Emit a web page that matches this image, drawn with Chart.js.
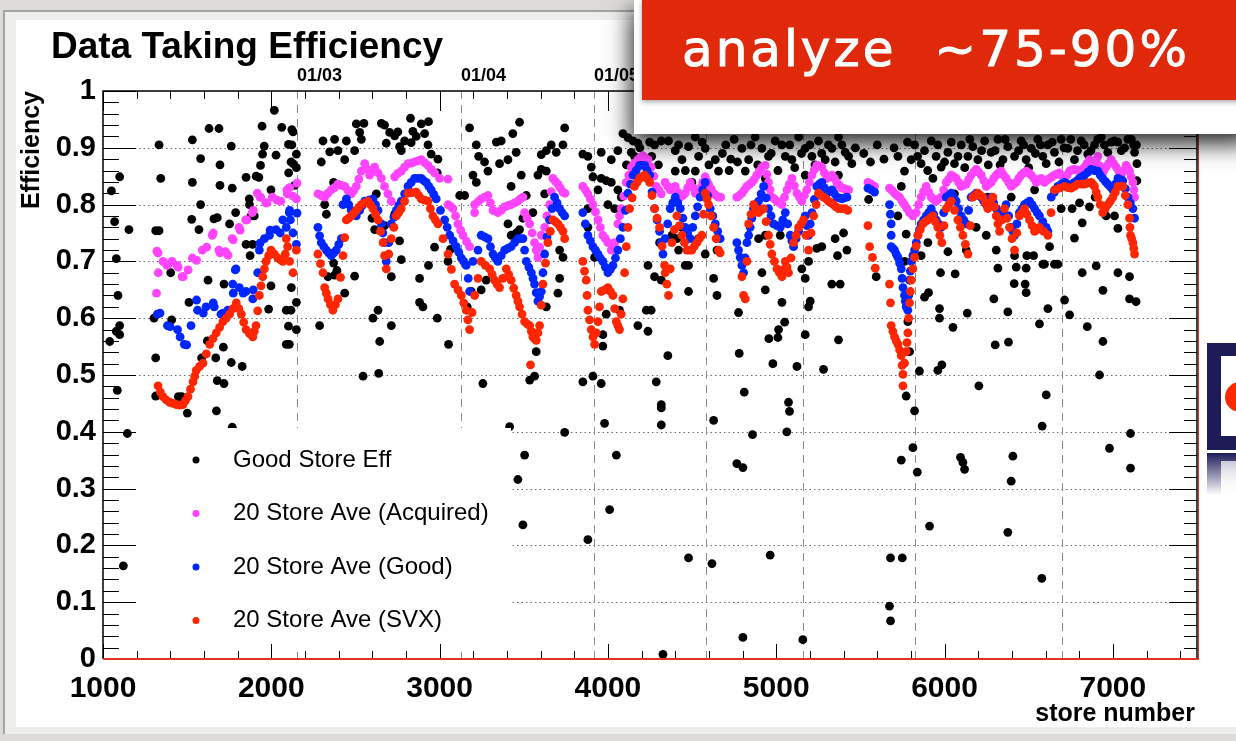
<!DOCTYPE html>
<html>
<head>
<meta charset="utf-8">
<script src="https://cdn.jsdelivr.net/npm/chart.js@4/dist/chart.umd.min.js"></script>
<style>
body { margin: 0; width: 1236px; height: 741px; overflow: hidden; position: relative; background: #dcdbd8; font-family: 'Liberation Sans', Arial, sans-serif; }
#frame { position: absolute; left: 3px; top: 10px; width: 1260px; height: 722px; border-left: 2px solid #a3a3a3; border-top: 2px solid #a3a3a3; background: #eeeeec; }
#sheet { position: absolute; left: 16px; top: 20px; width: 1240px; height: 707px; background: #fff; }
#chart { position: absolute; left: 0; top: 0; }
#title { position: absolute; left: 51px; top: 25px; font-weight: bold; font-size: 37px; color: #000; white-space: nowrap; }
#ytitle { position: absolute; left: 0; top: 0; width: 124px; text-align: right; font-weight: bold; font-size: 25px; line-height: 26px; transform-origin: 0 0; transform: translate(17px, 215px) rotate(-90deg); white-space: nowrap; }
#xtitle { position: absolute; right: 41px; top: 698px; font-weight: bold; font-size: 25px; white-space: nowrap; }
#panel { position: absolute; left: 634px; top: 0; width: 620px; height: 134px; background: #fff; box-shadow: -3px 10px 22px rgba(0,0,0,0.85); }
#redbox { position: absolute; left: 642px; top: 0; width: 620px; height: 100px; background: #e0290b; box-shadow: 0 2px 5px rgba(0,0,0,0.35); color: #fff; font-family: 'DejaVu Sans', sans-serif; font-size: 50px; line-height: 98px; padding-left: 40px; box-sizing: border-box; white-space: pre; letter-spacing: 3px; -webkit-text-stroke: 1px #fff; }
#logo { position: absolute; left: 1207px; top: 343px; width: 40px; height: 107px; background: #1d1b58; }
#logo .inner { position: absolute; left: 14px; top: 13px; width: 30px; height: 80px; background: #fff; overflow: hidden; }
#logo .dot { position: absolute; left: 4px; top: 26px; width: 30px; height: 30px; border-radius: 50%; background: #ff2a00; }
#logo2 { position: absolute; left: 1207px; top: 453px; width: 40px; height: 42px; background: linear-gradient(#1d1b58, rgba(29,27,88,0)); }
#logo2 .inner { position: absolute; left: 14px; top: 8px; width: 30px; height: 34px; background: linear-gradient(rgba(255,255,255,0.7), #fff); }
</style>
</head>
<body>
<div id="frame"></div>
<div id="sheet"></div>
<canvas id="chart" width="1236" height="741"></canvas>
<div id="title">Data Taking Efficiency</div>
<div id="ytitle">Efficiency</div>
<div id="xtitle">store number</div>
<div id="logo"><div class="inner"><div class="dot"></div></div></div>
<div id="logo2"><div class="inner"></div></div>
<div id="panel"></div>
<div id="redbox">analyze  ~75-90%</div>
<script>
var xTicks = [1000, 2000, 3000, 4000, 5000, 6000, 7000];

// store number where each new month starts, and its label
var dateStores = [2153, 3127, 3917, 4583, 5160, 5825, 6697];
var dateLabels = ['01/03', '01/04', '01/05', '01/06', '01/07', '01/08', '01/09'];

var legendLabels = ['Good Store Eff', '20 Store Ave (Acquired)', '20 Store Ave (Good)', '20 Store Ave (SVX)'];
var seriesColors = ['#000000', '#ff44ff', '#0026ff', '#ff2600'];

// single store efficiency [store, eff]
var goodStoreEff = [
	[1050,.824],[1099,.849],[1069,.77],[1079,.705],[1154,.756],[1089,.64],[1099,.587],[1079,.577],[1040,.559],[1099,.571],[1085,.473],[1145,.397],[1121,.164],
	[1333,.905],[1343,.846],[1313,.754],[1333,.754],[1303,.60],[1313,.53],[1313,.463],[1402,.68],[1408,.597],[1448,.462],[1467,.462],[1501,.433],
	[1531,.914],[1580,.881],[1531,.839],[1580,.80],[1527,.774],[1570,.756],[1511,.628],[1624,.667],[1630,.934],[1689,.934],[1695,.87],[1695,.834],
	[1659,.775],[1679,.777],[1620,.56],[1670,.53],[1586,.53],[1679,.49],[1719,.485],[1674,.437],[1715,.549],[1768,.408],[1762,.522],[1827,.515],
	[1762,.903],[1768,.829],[1752,.766],[1788,.786],[1719,.66],[1850,.848],[1869,.81],[1870,.80],[1880,.78],[1850,.73],[1889,.73],[1874,.71],
	[1945,.938],[1958,.903],[1948,.889],[1936,.869],[1910,.85],[1926,.848],[1899,.78],[2018,.966],[2062,.936],[2122,.932],[2102,.906],[2122,.905],
	[2028,.887],[2117,.875],[1998,.657],[1984,.616],[2117,.614],[2102,.586],[2107,.554],[1998,.826],
	[2129,.928],[2149,.889],[2129,.872],[2103,.856],[2139,.834],[2119,.654],[2149,.628],[2149,.58],[2089,.614],[2089,.554],[2149,.865],
	[2307,.912],[2376,.915],[2446,.912],[2505,.942],[2550,.943],[2525,.927],[2535,.915],[2495,.895],[2347,.893],[2396,.895],[2297,.875],[2436,.879],
	[2654,.943],[2673,.94],[2703,.927],[2683,.908],[2733,.921],[2752,.928],[2827,.952],[2891,.942],[2934,.946],[2841,.929],[2861,.92],[2911,.925],
	[2792,.912],[2831,.909],[2762,.902],[2772,.895],[2950,.889],[2990,.88],[2986,.856],[2931,.905],[2370,.839],[2317,.80],[2327,.783],[2624,.819],
	[2598,.776],[2614,.756],[2673,.763],[2733,.783],[2762,.736],[2772,.703],[2713,.673],[2370,.697],[2390,.684],[2337,.673],[2376,.676],[2495,.674],
	[2436,.644],[2970,.725],[2934,.693],[2881,.67],[2881,.628],[2901,.62],[2986,.60],[2604,.60],[2634,.614],[2713,.587],[2287,.587],[2644,.559],
	[2545,.498],[2638,.503],[3053,.554],[3065,.721],[3050,.70],[3119,.816],[3149,.816],[3178,.935],[3218,.905],[3198,.852],[3218,.839],[3188,.647],[3164,.62],
	[3232,.885],[3267,.875],[3287,.859],[3337,.91],[3366,.912],[3356,.872],[3435,.925],[3475,.945],[3455,.892],[3406,.879],[3485,.852],[3515,.816],
	[3425,.832],[3604,.888],[3634,.895],[3663,.905],[3693,.892],[3733,.905],[3743,.935],[3604,.862],[3634,.859],[3584,.852],[3624,.819],[3554,.786],
	[3495,.776],[3475,.756],[3425,.746],[3455,.75],[3406,.766],[3277,.667],[3247,.65],[3713,.67],[3703,.644],[3733,.707],[3634,.62],[3713,.72],
	[3574,.541],[3564,.498],[3535,.491],[3257,.485],[3416,.409],[3743,.399],[3505,.359],[3465,.316],[3495,.236],
	[3851,.889],[3881,.885],[3901,.866],[3911,.849],[3960,.892],[4020,.879],[4059,.895],[4089,.925],[4119,.918],[4149,.912],[4178,.908],[4139,.892],
	[4158,.885],[4248,.91],[4277,.905],[4317,.912],[4218,.879],[3960,.846],[3990,.842],[4020,.839],[4059,.826],[4079,.813],[3941,.826],[3881,.793],
	[4000,.80],[4040,.793],[3881,.76],[3921,.707],[4307,.733],[4238,.693],[4317,.667],[4277,.673],[4228,.614],[4257,.614],[4178,.587],[4238,.577],
	[3970,.571],[3990,.607],[3970,.551],[4069,.614],[4356,.534],[4287,.488],[4317,.448],[4317,.442],[4317,.412],[3960,.485],[3911,.498],[3851,.488],
	[3980,.415],[4050,.359],[4010,.263],[3881,.21],[4327,.008],
	[4479,.647],[4628,.67],[4648,.64],[4628,.42],[4479,.178],[4618,.168],[4420,.72],[4459,.693],[4479,.693],[4538,.74],[4578,.713],[4648,.72],
	[4776,.61],[4780,.538],[4810,.47],[4859,.395],[4766,.344],[4802,.337],[4802,.038],[4915,.68],[4935,.65],[4956,.564],[4980,.52],[5010,.566],
	[5014,.58],[5034,.628],[5050,.593],[5073,.452],[5079,.436],[5063,.40],[5123,.515],[4964,.183],[5158,.034],[5172,.571],[5192,.62],[5202,.63],
	[5152,.687],[5172,.67],[5281,.51],[5370,.562],[5330,.66],[5380,.66],[5420,.72],[5364,.71],[5400,.75],[5350,.74],[5192,.70],[5241,.723],
	[5271,.726],[4895,.74],[4935,.746],[5024,.746],[4380,.746],[4410,.74],[4440,.76],
	[4360,.912],[4400,.895],[4440,.879],[4479,.902],[4519,.919],[4539,.885],[4578,.899],[4638,.879],[4657,.859],[4519,.859],[4796,.899],[4836,.879],
	[4875,.919],[4915,.899],[4954,.885],[4994,.912],[5034,.905],[5054,.885],[5093,.879],[5133,.919],[5172,.899],[5212,.885],[5251,.912],[5291,.879],
	[5331,.899],[5370,.919],[5410,.892],[5449,.872],[4400,.859],[4499,.839],[4816,.859],[4935,.846],[5172,.852],[5370,.852],[4700,.905],[4730,.88],[4750,.915],
	[5560,.875],[5549,.809],[5594,.673],[5723,.78],[5772,.748],[5762,.70],[5679,.178],[5749,.178],[5673,.093],[5679,.067],[5743,.35],[5772,.463],
	[5792,.541],[5782,.594],[5822,.437],[5812,.372],[5838,.329],[5851,.507],[5911,.234],[5881,.637],[5905,.645],[5970,.617],[5970,.60],[5960,.508],
	[5984,.518],[5976,.68],[6050,.584],[6063,.678],[6095,.355],[6109,.346],[6119,.334],[6135,.609],[6204,.481],[6293,.634],[6301,.553],[6380,.558],
	[6376,.611],[6317,.688],[6426,.69],[6485,.688],[6414,.661],[6479,.66],[6485,.645],[6406,.357],[6396,.313],[6376,.223],[6564,.59],[6604,.465],
	[6580,.41],[6578,.142],[6614,.617],[6416,.71],[6489,.71],[6529,.71],[6584,.695],[6248,.746],[6307,.72],[6188,.76],[6129,.72],[6020,.717],[5901,.733],[5861,.71],
	[5723,.885],[5762,.859],[5802,.879],[5822,.905],[5861,.872],[5881,.895],[5921,.912],[5950,.885],[5980,.866],[6020,.892],[6059,.872],[6099,.905],
	[6139,.885],[6168,.902],[6198,.879],[6238,.912],[6277,.892],[6317,.915],[6347,.879],[6376,.902],[6416,.885],[6455,.912],[6485,.879],[6515,.899],
	[6554,.915],[6584,.885],[6614,.905],[5743,.832],[5931,.846],[6059,.819],[6257,.813],[6396,.813],[6535,.826],
	[6624,.726],[6594,.695],[6653,.695],[6673,.695],[6713,.632],[6743,.606],[6848,.585],[6941,.559],[6921,.50],[7105,.397],[6980,.371],[7105,.336],
	[6818,.68],[6901,.692],[7030,.68],[7099,.673],[6941,.649],[7099,.634],[7138,.629],[6772,.741],[6818,.768],[7030,.758],[6895,.813],[6861,.796],
	[6802,.803],[6758,.793],[6693,.793],[7010,.78],[6960,.78],[7143,.842],[7143,.872],[7123,.905],
	[6653,.892],[6693,.915],[6733,.899],[6772,.879],[6812,.912],[6851,.889],[6891,.905],[6931,.919],[6970,.892],[7010,.912],[7050,.895],[7089,.915],[7129,.892],[6604,.872],
	[4110,.87],[4190,.90],[4260,.885],[4300,.87],[4420,.905],[4460,.86],[4560,.91],[4600,.87],[4680,.89],[4720,.86],[4770,.875],[4850,.905],
	[4890,.87],[4970,.89],[5010,.86],[5080,.905],[5110,.865],[5150,.89],[5200,.905],[5230,.87],[5270,.89],[5310,.905],[5350,.875],[5390,.905],
	[5430,.885],[5470,.90],[5520,.89],[5600,.905],[5640,.88],[5700,.90],[5780,.91],[5840,.885],[5900,.86],[5960,.905],[6000,.875],[6040,.91],
	[6080,.885],[6120,.865],[6150,.915],[6220,.895],[6260,.87],[6300,.895],[6330,.87],[6360,.915],[6440,.895],[6470,.905],[6500,.865],[6540,.89],
	[6570,.905],[6640,.91],[6680,.875],[6710,.90],[6750,.915],[6790,.895],[6830,.905],[6870,.895],[6910,.915],[6950,.905],[6990,.91],[7030,.91],
	[7070,.90],[7110,.915],[7140,.905]
];

// 20 store running average, acquired
var aveAcquired = [
	[1320,.718],[1318,.644],[1327,.715],[1328,.68],[1357,.70],[1380,.693],[1386,.694],[1410,.70],[1440,.693],[1446,.69],[1470,.673],[1476,.673],[1506,.685],
	[1531,.706],[1556,.702],[1590,.72],[1616,.725],[1649,.746],[1655,.75],[1689,.72],[1695,.715],[1729,.717],[1743,.711],[1768,.74],[1774,.738],
	[1808,.76],[1815,.755],[1848,.773],[1855,.773],[1887,.786],[1893,.79],[1917,.82],[1933,.813],[1937,.813],[1967,.803],[1974,.803],[2006,.813],
	[2034,.808],[2056,.806],[2093,.826],[2095,.819],[2109,.83],[2129,.815],[2149,.81],[2153,.838],
	[2277,.819],[2297,.816],[2317,.813],[2336,.82],[2356,.826],[2376,.83],[2396,.836],[2416,.834],[2436,.832],[2455,.825],[2475,.819],[2490,.825],[2505,.832],[2520,.845],
	[2535,.859],[2555,.872],[2570,.862],[2584,.852],[2600,.858],[2614,.866],[2634,.856],[2654,.846],[2673,.832],[2693,.819],[2713,.806],[2733,.849],[2752,.855],
	[2772,.859],[2792,.866],[2812,.872],[2831,.873],[2851,.875],[2871,.877],[2891,.879],[2911,.874],[2931,.869],[2950,.862],[2970,.856],[3000,.846],[3050,.845],
	[3050,.80],[3065,.797],[3079,.793],[3095,.78],[3109,.766],[3125,.755],[3139,.746],[3160,.735],[3178,.726],[3208,.786],
	[3208,.80],[3228,.805],[3247,.81],[3267,.813],[3287,.816],[3302,.803],[3317,.79],[3346,.786],[3366,.79],[3386,.796],[3405,.798],[3425,.80],[3445,.803],
	[3465,.806],[3480,.81],[3495,.813],[3505,.786],[3520,.776],[3535,.766],[3550,.75],[3564,.733],[3574,.72],[3584,.707],[3594,.725],[3604,.746],[3624,.76],
	[3638,.78],[3653,.80],[3663,.823],[3673,.846],[3688,.841],[3703,.836],[3718,.829],[3733,.822],[3745,.82],
	[3851,.832],[3866,.826],[3881,.819],[3896,.81],[3911,.80],[3926,.787],[3941,.773],[3955,.76],[3970,.746],[3985,.74],[4000,.733],[4020,.72],[4040,.733],
	[4059,.766],[4069,.78],[4079,.793],[4094,.815],[4109,.839],[4124,.852],[4139,.866],[4158,.873],[4178,.879],[4193,.883],[4208,.886],[4223,.882],[4238,.879],
	[4257,.866],[4272,.85],[4287,.832],[4302,.826],[4317,.819],[4340,.839],[4355,.832],[4370,.826],[4385,.829],[4400,.832],[4415,.822],[4430,.813],
	[4445,.816],[4459,.82],[4474,.83],[4489,.839],[4504,.83],[4519,.82],[4533,.825],[4548,.829],[4563,.839],[4578,.849],[4588,.842],[4598,.836],[4613,.828],
	[4628,.82],[4643,.816],[4657,.813],[4670,.813],
	[4766,.813],[4781,.816],[4796,.82],[4811,.826],[4826,.832],[4840,.835],[4855,.839],[4870,.845],[4885,.852],[4900,.859],[4915,.866],[4935,.869],
	[4945,.853],[4954,.839],[4964,.826],[4974,.813],[4989,.81],[5004,.806],[5019,.803],[5034,.80],[5049,.813],[5064,.826],[5078,.836],[5093,.846],
	[5108,.833],[5123,.82],[5138,.813],[5152,.806],[5167,.816],[5182,.826],[5197,.839],[5212,.852],[5226,.861],[5241,.869],[5256,.868],[5271,.866],
	[5286,.856],[5301,.846],[5316,.849],[5331,.852],[5345,.846],[5360,.839],[5375,.834],[5390,.829],[5405,.828],[5420,.826],[5430,.826],
	[5545,.839],[5565,.836],[5584,.832],[5673,.829],[5688,.825],[5703,.82],[5718,.816],[5733,.813],[5748,.806],[5762,.80],[5777,.793],[5792,.786],
	[5812,.78],[5832,.786],[5846,.8],[5861,.813],[5876,.823],[5891,.832],[5906,.822],[5921,.813],[5935,.809],[5950,.806],[5965,.81],[5980,.813],
	[5995,.826],[6010,.839],[6025,.845],[6040,.852],[6055,.849],[6069,.846],[6084,.839],[6099,.832],[6114,.834],[6129,.836],[6143,.844],[6158,.852],
	[6173,.857],[6188,.862],[6203,.857],[6218,.852],[6233,.842],[6248,.832],[6262,.836],[6277,.839],[6292,.846],[6307,.852],[6322,.856],[6337,.859],
	[6351,.852],[6366,.846],[6381,.839],[6396,.832],[6411,.836],[6426,.839],[6441,.846],[6455,.852],[6470,.856],[6485,.859],[6500,.856],[6515,.852],
	[6530,.846],[6545,.839],[6560,.843],[6574,.846],[6594,.839],[6609,.843],[6624,.846],[6638,.849],[6653,.852],[6668,.854],[6683,.856],[6698,.851],
	[6713,.846],[6728,.852],[6743,.859],[6757,.861],[6772,.862],[6787,.861],[6802,.859],[6817,.862],[6832,.866],[6846,.872],[6861,.879],[6876,.876],
	[6891,.872],[6901,.878],[6911,.885],[6921,.868],[6931,.852],[6945,.859],[6960,.866],[6975,.872],[6990,.879],[7005,.872],[7020,.866],[7035,.859],
	[7050,.852],[7065,.86],[7079,.869],[7089,.864],[7099,.859],[7109,.849],[7119,.839],[7125,.826],[7129,.813]
];

// 20 store running average, good
var aveGood = [
	[1323,.607],[1339,.609],[1383,.587],[1398,.585],[1443,.58],[1458,.567],[1483,.554],[1497,.553],[1523,.587],[1556,.632],[1562,.614],[1596,.609],
	[1612,.62],[1655,.627],[1661,.62],[1701,.607],[1714,.609],[1741,.614],[1771,.66],[1774,.644],[1786,.685],[1790,.687],[1810,.654],[1833,.644],
	[1850,.647],[1890,.634],[1893,.65],[1919,.68],[1929,.72],[1933,.732],[1959,.74],[1989,.746],[1993,.755],[2028,.756],[2053,.75],[2068,.773],
	[2089,.76],[2107,.786],[2109,.79],[2113,.773],[2129,.75],[2149,.73],[2153,.785],
	[2277,.76],[2287,.745],[2297,.733],[2312,.726],[2327,.72],[2341,.715],[2356,.71],[2371,.715],[2386,.72],[2401,.73],[2416,.74],[2426,.80],[2446,.81],
	[2460,.8],[2475,.79],[2490,.785],[2505,.78],[2525,.79],[2540,.798],[2555,.806],[2580,.808],[2604,.81],[2619,.8],[2634,.79],[2654,.766],[2663,.75],
	[2673,.733],[2683,.70],[2698,.733],[2713,.766],[2728,.778],[2743,.79],[2757,.798],[2772,.806],[2792,.819],[2812,.832],[2831,.839],[2851,.846],
	[2871,.846],[2891,.846],[2906,.842],[2921,.839],[2936,.832],[2950,.826],[2965,.818],[2980,.81],[3005,.79],[3030,.773],[3045,.76],[3060,.746],
	[3080,.736],[3099,.726],[3114,.716],[3129,.706],[3143,.7],[3158,.693],[3170,.67],[3178,.647],[3198,.70],[3228,.72],
	[3247,.746],[3267,.743],[3287,.74],[3302,.726],[3317,.713],[3331,.706],[3346,.70],[3366,.71],[3386,.72],[3405,.723],[3425,.726],[3445,.733],
	[3465,.74],[3480,.74],[3495,.74],[3505,.72],[3515,.70],[3530,.69],[3545,.68],[3555,.67],[3564,.66],[3574,.645],[3584,.63],[3594,.638],[3604,.647],
	[3614,.68],[3624,.713],[3638,.743],[3653,.773],[3668,.793],[3683,.813],[3698,.803],[3713,.793],[3728,.786],[3743,.78],
	[3851,.786],[3866,.766],[3881,.746],[3896,.736],[3911,.726],[3926,.72],[3941,.713],[3955,.706],[3970,.70],[3985,.69],[4000,.68],[4015,.686],
	[4030,.693],[4045,.706],[4059,.72],[4074,.74],[4089,.76],[4104,.79],[4119,.82],[4134,.836],[4149,.852],[4168,.86],[4188,.869],[4203,.869],
	[4218,.869],[4233,.86],[4248,.852],[4262,.822],[4277,.793],[4292,.773],[4307,.753],[4317,.733],[4327,.713],
	[4340,.74],[4355,.766],[4370,.793],[4385,.803],[4400,.813],[4415,.803],[4430,.793],[4445,.776],[4459,.76],[4474,.75],[4489,.74],[4504,.76],
	[4519,.78],[4533,.796],[4548,.813],[4563,.826],[4578,.839],[4593,.816],[4608,.793],[4623,.78],[4638,.766],[4652,.753],[4667,.74],
	[4766,.733],[4776,.72],[4786,.707],[4796,.693],[4806,.68],[4816,.706],[4826,.733],[4836,.746],[4845,.76],[4855,.776],[4865,.793],[4880,.8],
	[4895,.806],[4910,.819],[4925,.832],[4940,.812],[4954,.793],[4969,.78],[4984,.766],[5004,.763],[5024,.76],[5039,.773],[5054,.786],[5068,.766],
	[5083,.746],[5093,.736],[5103,.726],[5118,.74],[5133,.753],[5152,.766],[5172,.78],[5182,.763],[5192,.746],[5202,.766],[5212,.786],[5226,.809],
	[5241,.832],[5256,.836],[5271,.839],[5286,.83],[5301,.82],[5316,.823],[5331,.826],[5345,.82],[5360,.813],[5375,.812],[5390,.81],[5405,.812],[5420,.813],
	[5545,.829],[5565,.826],[5584,.822],[5673,.80],[5678,.783],[5683,.766],[5683,.746],[5683,.726],[5693,.723],[5703,.72],[5713,.713],[5723,.707],
	[5733,.697],[5743,.687],[5748,.67],[5753,.654],[5762,.64],[5767,.63],[5772,.62],[5782,.614],[5787,.64],[5792,.667],[5797,.683],[5802,.70],
	[5812,.71],[5822,.72],[5832,.733],[5842,.746],[5851,.756],[5861,.766],[5876,.773],[5891,.78],[5906,.786],[5921,.793],[5935,.783],[5950,.773],
	[5965,.766],[5980,.76],[5995,.786],[6010,.813],[6025,.816],[6040,.82],[6055,.813],[6069,.806],[6084,.793],[6099,.78],[6114,.773],[6129,.766],
	[6143,.79],[6158,.813],[6173,.816],[6188,.82],[6203,.816],[6218,.813],[6233,.806],[6248,.80],[6262,.806],[6277,.813],[6292,.803],[6307,.793],
	[6322,.786],[6337,.78],[6351,.79],[6366,.80],[6381,.78],[6396,.76],[6406,.753],[6416,.746],[6430,.766],[6445,.786],[6460,.793],[6475,.80],
	[6490,.803],[6505,.806],[6520,.8],[6535,.793],[6550,.786],[6564,.78],[6584,.77],[6604,.76],[6614,.753],[6634,.813],[6653,.822],[6673,.832],
	[6693,.836],[6713,.839],[6728,.836],[6743,.832],[6757,.836],[6772,.839],[6787,.842],[6802,.846],[6817,.849],[6832,.852],[6851,.857],[6871,.862],
	[6891,.86],[6911,.859],[6925,.852],[6940,.846],[6955,.841],[6970,.836],[6985,.831],[7000,.826],[7015,.836],[7030,.846],[7045,.844],[7059,.842],
	[7074,.828],[7089,.813],[7104,.803],[7119,.793],[7129,.776]
];

// 20 store running average, SVX
var aveSVX = [
	[1327,.481],[1341,.47],[1356,.462],[1376,.456],[1396,.452],[1416,.45],[1436,.448],[1455,.447],[1475,.448],[1490,.455],[1505,.462],[1520,.475],
	[1535,.488],[1545,.498],[1554,.508],[1574,.515],[1594,.521],[1614,.537],[1634,.554],[1653,.564],[1673,.574],[1693,.584],[1713,.594],[1732,.6],
	[1752,.607],[1772,.617],[1792,.627],[1807,.617],[1822,.607],[1836,.593],[1850,.58],[1870,.573],[1890,.567],[1899,.577],[1909,.587],[1919,.613],
	[1929,.64],[1939,.657],[1949,.673],[1959,.687],[1969,.70],[1984,.71],[1998,.72],[2018,.713],[2038,.706],[2053,.703],[2068,.70],[2083,.713],
	[2089,.74],[2097,.726],[2109,.70],[2129,.68],[2149,.72],
	[2277,.713],[2292,.696],[2307,.68],[2317,.654],[2327,.644],[2337,.634],[2351,.624],[2366,.614],[2381,.624],[2396,.634],[2411,.672],[2426,.71],
	[2436,.742],[2446,.773],[2460,.776],[2475,.78],[2490,.785],[2505,.79],[2520,.795],[2535,.80],[2555,.803],[2574,.806],[2589,.8],[2604,.793],
	[2619,.783],[2634,.773],[2649,.753],[2664,.733],[2673,.71],[2683,.687],[2698,.713],[2713,.74],[2728,.76],[2743,.78],[2757,.786],[2772,.793],
	[2792,.806],[2812,.82],[2836,.821],[2861,.822],[2876,.816],[2891,.81],[2911,.808],[2931,.806],[2945,.793],[2960,.78],[2975,.773],[2990,.766],
	[3020,.74],[3050,.713],[3070,.686],[3089,.66],[3109,.65],[3129,.64],[3143,.627],[3158,.614],[3168,.597],[3178,.58],[3193,.61],[3208,.64],
	[3228,.67],[3247,.70],[3272,.693],[3297,.687],[3312,.677],[3327,.667],[3341,.66],[3356,.654],[3376,.67],[3396,.687],[3410,.677],[3425,.667],
	[3440,.653],[3455,.64],[3465,.63],[3475,.62],[3490,.607],[3505,.594],[3520,.59],[3535,.587],[3545,.577],[3554,.567],[3564,.564],[3574,.561],
	[3540,.518],[3584,.574],[3594,.587],[3604,.623],[3614,.66],[3629,.697],[3643,.733],[3658,.753],[3673,.773],[3688,.77],[3703,.766],[3718,.76],
	[3733,.753],[3743,.74],
	[3851,.70],[3861,.683],[3871,.667],[3876,.64],[3881,.614],[3891,.597],[3901,.58],[3911,.567],[3921,.554],[3931,.574],[3941,.594],[3950,.62],
	[3960,.647],[3980,.65],[4000,.654],[4015,.647],[4030,.64],[4040,.617],[4050,.594],[4059,.587],[4069,.58],[4079,.607],[4089,.634],[4099,.68],
	[4109,.726],[4119,.76],[4129,.793],[4144,.812],[4158,.832],[4173,.839],[4188,.846],[4203,.849],[4218,.852],[4233,.846],[4248,.839],[4262,.816],
	[4277,.793],[4292,.776],[4307,.76],[4322,.727],[4337,.693],[4340,.68],[4350,.66],[4360,.64],[4370,.687],[4380,.733],[4395,.756],[4410,.78],
	[4425,.763],[4440,.746],[4455,.733],[4469,.72],[4484,.72],[4499,.72],[4514,.727],[4529,.733],[4543,.74],[4558,.746],[4568,.783],[4578,.82],
	[4588,.81],[4598,.80],[4613,.78],[4628,.76],[4643,.74],[4657,.72],[4667,.715],
	[4796,.673],[4806,.64],[4816,.634],[4826,.7],[4836,.766],[4850,.783],[4865,.80],[4880,.793],[4895,.786],[4910,.79],[4925,.793],[4940,.77],
	[4954,.746],[4964,.73],[4974,.713],[4989,.7],[5004,.687],[5019,.68],[5034,.673],[5044,.686],[5054,.70],[5064,.69],[5073,.68],[5088,.706],
	[5103,.733],[5118,.746],[5133,.76],[5148,.766],[5162,.773],[5177,.746],[5192,.72],[5207,.75],[5222,.78],[5237,.8],[5251,.82],[5266,.816],
	[5281,.813],[5296,.81],[5311,.806],[5325,.803],[5340,.80],[5355,.796],[5370,.793],[5390,.793],[5410,.793],[5425,.79],
	[5545,.763],[5555,.726],[5572,.707],[5588,.688],[5673,.66],[5679,.627],[5683,.587],[5693,.577],[5703,.567],[5713,.56],[5723,.554],[5733,.544],
	[5743,.534],[5748,.517],[5753,.501],[5753,.481],[5762,.521],[5772,.541],[5777,.557],[5782,.574],[5787,.6],[5792,.627],[5797,.647],[5802,.667],
	[5812,.687],[5822,.707],[5832,.727],[5842,.746],[5856,.756],[5871,.766],[5886,.77],[5901,.773],[5915,.776],[5930,.78],[5945,.77],[5960,.76],
	[5972,.746],[5984,.733],[5997,.763],[6010,.793],[6025,.8],[6040,.806],[6060,.79],[6079,.773],[6094,.76],[6109,.746],[6124,.73],[6139,.713],
	[6153,.763],[6168,.813],[6183,.816],[6198,.82],[6213,.816],[6228,.813],[6242,.803],[6257,.793],[6272,.803],[6287,.813],[6297,.796],[6307,.78],
	[6317,.766],[6327,.753],[6341,.773],[6356,.793],[6371,.776],[6386,.76],[6401,.74],[6416,.72],[6430,.75],[6445,.78],[6460,.786],[6475,.793],
	[6490,.783],[6505,.773],[6520,.763],[6535,.753],[6550,.756],[6564,.76],[6589,.753],[6614,.746],[6633,.786],[6653,.826],[6683,.829],[6713,.832],
	[6733,.83],[6752,.829],[6772,.832],[6792,.836],[6812,.836],[6832,.836],[6851,.838],[6871,.839],[6881,.836],[6891,.832],[6901,.822],[6911,.813],
	[6925,.8],[6940,.786],[6955,.793],[6970,.80],[6985,.806],[7000,.813],[7015,.822],[7030,.832],[7045,.832],[7059,.832],[7074,.816],[7089,.80],
	[7099,.776],[7102,.76],[7105,.746],[7112,.74],[7119,.733],[7124,.723],[7129,.713]
];

function toPoints(list) {
	return list.map(function(p) { return {x: p[0], y: p[1]}; });
}

var rootStyle = {
	id: 'rootStyle',
	beforeDatasetsDraw: function(chart) {
		var ctx = chart.ctx, a = chart.chartArea, xs = chart.scales.x, ys = chart.scales.y;
		ctx.save();
		// dotted horizontal grid
		ctx.strokeStyle = '#6d6d6d';
		ctx.lineWidth = 1;
		ctx.setLineDash([1.5, 3]);
		for (var i = 1; i < 10; i++) {
			var py = Math.round(ys.getPixelForValue(i / 10)) + 0.5;
			ctx.beginPath(); ctx.moveTo(a.left, py); ctx.lineTo(a.right, py); ctx.stroke();
		}
		// dashed month lines
		ctx.strokeStyle = '#8a8a8a';
		ctx.setLineDash([8, 6]);
		dateStores.forEach(function(s) {
			var px = Math.round(xs.getPixelForValue(s)) + 0.5;
			ctx.beginPath(); ctx.moveTo(px, a.top); ctx.lineTo(px, a.bottom); ctx.stroke();
		});
		ctx.restore();
	},
	afterDatasetsDraw: function(chart) {
		var ctx = chart.ctx, a = chart.chartArea, xs = chart.scales.x, ys = chart.scales.y;
		ctx.save();

		// legend box
		ctx.fillStyle = '#fff';
		ctx.fillRect(137, 428, 374, 224);
		ctx.font = '24px "Liberation Sans", Arial, sans-serif';
		ctx.textBaseline = 'middle';
		legendLabels.forEach(function(txt, i) {
			var cy = 460 + i * 53.5;
			ctx.fillStyle = seriesColors[i];
			ctx.beginPath(); ctx.arc(196, cy, 3.5, 0, Math.PI * 2); ctx.fill();
			ctx.fillStyle = '#000';
			ctx.fillText(txt, 233, cy);
		});

		// inside ticks
		ctx.strokeStyle = '#000';
		ctx.lineWidth = 1;
		for (var i = 0; i <= 50; i++) {
			var py = Math.round(ys.getPixelForValue(i * 0.02)) + 0.5;
			var major = i % 5 === 0;
			ctx.beginPath();
			ctx.moveTo(a.left, py); ctx.lineTo(a.left + (major ? 33 : 16), py);
			ctx.moveTo(a.right, py); ctx.lineTo(a.right - (major ? 28 : 13), py);
			ctx.stroke();
		}
		for (var s = 1000; s < 7500; s += 200) {
			var px = Math.round(xs.getPixelForValue(s)) + 0.5;
			var maj = s % 1000 === 0;
			ctx.beginPath();
			ctx.moveTo(px, a.bottom); ctx.lineTo(px, a.bottom - (maj ? 15 : 8));
			ctx.moveTo(px, a.top); ctx.lineTo(px, a.top + (maj ? 20 : 8));
			ctx.stroke();
		}

		// frame
		ctx.lineWidth = 1.5;
		ctx.strokeStyle = '#000';
		ctx.beginPath();
		ctx.moveTo(a.left, a.bottom); ctx.lineTo(a.left, a.top); ctx.lineTo(a.right, a.top); ctx.lineTo(a.right, a.bottom);
		ctx.stroke();
		ctx.strokeStyle = '#e2331f';
		ctx.lineWidth = 2;
		ctx.beginPath(); ctx.moveTo(a.left, a.bottom); ctx.lineTo(a.right + 2, a.bottom); ctx.stroke();
		ctx.lineWidth = 1;
		ctx.beginPath(); ctx.moveTo(a.right + 1.5, a.top); ctx.lineTo(a.right + 1.5, a.bottom); ctx.stroke();

		// month labels on top axis
		ctx.fillStyle = '#000';
		ctx.font = 'bold 18px "Liberation Sans", Arial, sans-serif';
		ctx.textBaseline = 'alphabetic';
		ctx.textAlign = 'left';
		dateStores.forEach(function(s, i) {
			ctx.fillText(dateLabels[i], xs.getPixelForValue(s), a.top - 10);
		});
		ctx.restore();
	}
};

function makeSet(label, list, color, order) {
	return {
		label: label,
		data: toPoints(list),
		backgroundColor: color,
		borderColor: color,
		borderWidth: 0,
		pointRadius: 4.4,
		pointStyle: 'circle',
		order: order
	};
}

new Chart(document.getElementById('chart'), {
	type: 'scatter',
	data: {
		datasets: [
			makeSet(legendLabels[3], aveSVX, seriesColors[3], 0),
			makeSet(legendLabels[2], aveGood, seriesColors[2], 1),
			makeSet(legendLabels[1], aveAcquired, seriesColors[1], 2),
			makeSet(legendLabels[0], goodStoreEff, seriesColors[0], 3)
		]
	},
	options: {
		responsive: false,
		animation: false,
		events: [],
		layout: { padding: { left: 0, top: 91, right: 39, bottom: 32 } },
		plugins: { legend: { display: false }, tooltip: { enabled: false } },
		scales: {
			x: {
				type: 'linear', min: 1000, max: 7500,
				grid: { display: false, drawTicks: false },
				border: { display: false },
				afterBuildTicks: function(s) {
					s.ticks = xTicks.map(function(v) { return { value: v }; });
				},
				ticks: {
					autoSkip: false, maxRotation: 0, padding: 12, color: '#000',
					font: { family: 'Liberation Sans', weight: 'bold', size: 30 },
					callback: function(v) { return String(v); }
				},
				afterFit: function(s) { s.height = 50; }
			},
			y: {
				min: 0, max: 1,
				grid: { display: false, drawTicks: false },
				border: { display: false },
				ticks: {
					stepSize: 0.1, autoSkip: false, padding: 7, color: '#000',
					font: { family: 'Liberation Sans', weight: 'bold', size: 29 },
					callback: function(v) { return String(+v.toFixed(1)); }
				},
				afterFit: function(s) { s.width = 103; }
			}
		}
	},
	plugins: [rootStyle]
});
</script>
</body>
</html>
